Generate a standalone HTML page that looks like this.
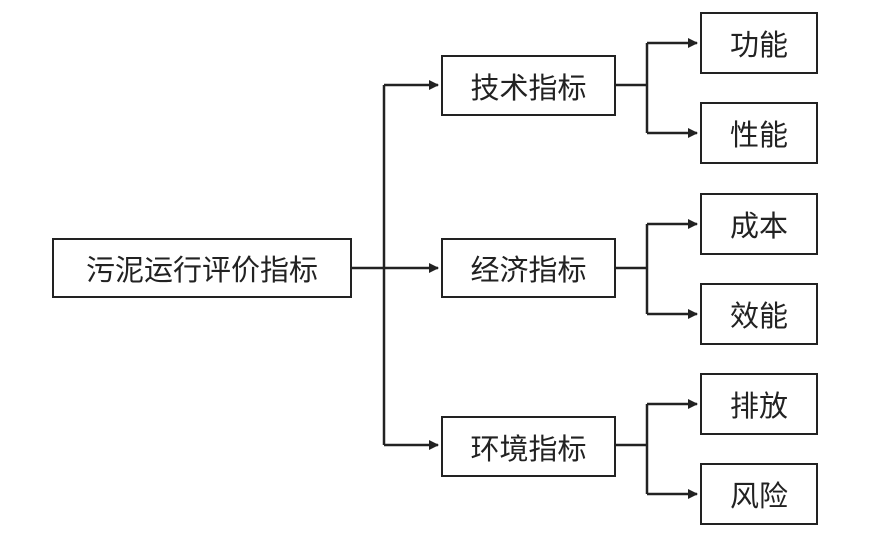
<html><body style="margin:0;width:874px;height:546px;background:#fff;position:relative;overflow:hidden;font-family:'Liberation Sans','Noto Sans CJK SC',sans-serif">
<style>.b{position:absolute;border:2.5px solid #222;box-sizing:border-box;display:flex;align-items:center;justify-content:center;font-size:29px;color:#222;background:#fff}</style>
<svg width="874" height="546" style="position:absolute;left:0;top:0">
<defs><marker id="a" markerWidth="10" markerHeight="10" refX="9" refY="5" orient="auto" markerUnits="userSpaceOnUse"><path d="M0,0 L10,5 L0,10z" fill="#222"/></marker></defs>
<g stroke="#222" stroke-width="2.5" fill="none">
<path d="M351,268 H384"/><path d="M384,85 V445"/>
<path d="M384,85 H438" marker-end="url(#a)"/><path d="M384,268 H438" marker-end="url(#a)"/><path d="M384,445 H438" marker-end="url(#a)"/>
<path d="M615,85 H647"/><path d="M647,43 V133"/><path d="M647,43 H697" marker-end="url(#a)"/><path d="M647,133 H697" marker-end="url(#a)"/>
<path d="M615,268 H647"/><path d="M647,224 V314"/><path d="M647,224 H697" marker-end="url(#a)"/><path d="M647,314 H697" marker-end="url(#a)"/>
<path d="M615,445 H647"/><path d="M647,404 V494"/><path d="M647,404 H697" marker-end="url(#a)"/><path d="M647,494 H697" marker-end="url(#a)"/>
</g></svg>
<div class="b" style="left:52px;top:238px;width:300px;height:60px">污泥运行评价指标</div>
<div class="b" style="left:441px;top:55px;width:175px;height:61px">技术指标</div>
<div class="b" style="left:441px;top:238px;width:175px;height:60px">经济指标</div>
<div class="b" style="left:441px;top:416px;width:175px;height:61px">环境指标</div>
<div class="b" style="left:700px;top:12px;width:118px;height:62px">功能</div>
<div class="b" style="left:700px;top:102px;width:118px;height:62px">性能</div>
<div class="b" style="left:700px;top:193px;width:118px;height:62px">成本</div>
<div class="b" style="left:700px;top:283px;width:118px;height:62px">效能</div>
<div class="b" style="left:700px;top:373px;width:118px;height:62px">排放</div>
<div class="b" style="left:700px;top:463px;width:118px;height:62px">风险</div>
</body></html>
